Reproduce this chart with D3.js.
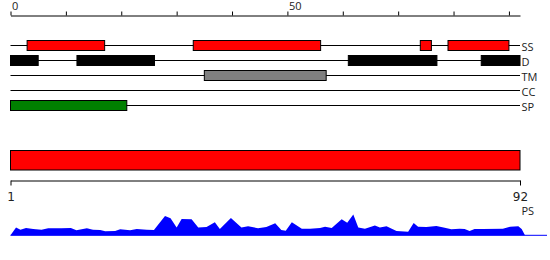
<!DOCTYPE html>
<html>
<head>
<meta charset="utf-8">
<script src="https://cdn.jsdelivr.net/npm/d3@7"></script>
<style>
  body { margin: 0; background: #fff; }
  svg { display: block; }
  text { font-family: "Open Sans", sans-serif; fill: #222; }
</style>
</head>
<body>
<svg id="chart" width="550" height="260"></svg>
<script>
// sequence length and feature tracks
const seqLength = 92;
const trackNames = ['SS', 'D', 'TM', 'CC', 'SP'];
const trackColors = ['#ff0000', '#000000', '#808080', '#ffa500', '#008000'];
const ssRegions = [[3, 17], [33, 56], [74, 76], [79, 90]];
const dRegions = [[0, 5], [12, 26], [61, 77], [85, 92]];
const tmRegions = [[35, 57]];
const ccRegions = [];
const spRegions = [[0, 21]];
const trackRegions = [ssRegions, dRegions, tmRegions, ccRegions, spRegions];

const topTicks = [0, 10, 20, 30, 40, 50, 60, 70, 80, 90];
const topLabels = [0, 50];
const psTicks = [1, 92];

// profile along the sequence: [position, score]
const profile = [
  [0, 0], [1.0, 0.36], [1.8, 0.25], [2.8, 0.33], [4.1, 0.29], [5.6, 0.25],
  [6.8, 0.32], [9.2, 0.32], [10.9, 0.33], [11.9, 0.23], [13.8, 0.32], [14.9, 0.25],
  [16.2, 0.24], [17.1, 0.18], [18.9, 0.2], [19.8, 0.27], [21.6, 0.23], [22.8, 0.29],
  [24.6, 0.25], [25.9, 0.24], [27.9, 0.88], [28.9, 0.77], [30.0, 0.35], [30.9, 0.74],
  [32.7, 0.73], [33.9, 0.35], [35.4, 0.38], [36.9, 0.59], [37.8, 0.29], [39.8, 0.79],
  [41.7, 0.36], [42.9, 0.41], [44.7, 0.32], [46.2, 0.38], [47.8, 0.55], [48.9, 0.24],
  [49.7, 0.21], [50.8, 0.59], [52.6, 0.3], [54.1, 0.3], [55.9, 0.33], [56.8, 0.39],
  [58.0, 0.33], [59.8, 0.73], [60.8, 0.57], [61.9, 0.94], [62.8, 0.35], [64.0, 0.3],
  [65.8, 0.45], [66.7, 0.36], [67.9, 0.41], [69.7, 0.2], [71.8, 0.16], [72.8, 0.56],
  [73.6, 0.39], [75.1, 0.38], [76.9, 0.42], [78.2, 0.35], [79.6, 0.27], [81.1, 0.3],
  [82.0, 0.29], [82.9, 0.2], [83.8, 0.29], [85.3, 0.29], [88.9, 0.3], [90.2, 0.39],
  [91.7, 0.41], [92.3, 0.29], [92.9, 0]
];

const svg = d3.select('#chart');

const x = d3.scaleLinear().domain([0, seqLength]).range([10.5, 520]);
const xPS = d3.scaleLinear().domain([1, seqLength]).range([10.5, 520]);
const yTrack = d3.scalePoint().domain(trackNames).range([45, 105]);
const yProfile = d3.scaleLinear().domain([0, 1]).range([235.3, 213.3]);

// top ruler
const topAxis = svg.append('g')
  .attr('transform', 'translate(0,15.5)')
  .call(d3.axisTop(x)
    .tickValues(topTicks)
    .tickSize(4)
    .tickSizeOuter(0)
    .tickPadding(1.5)
    .tickFormat(d => topLabels.includes(d) ? d : ''));
topAxis.select('.domain').attr('stroke', '#000');
topAxis.selectAll('.tick line').attr('stroke', '#000');
topAxis.selectAll('.tick text')
  .attr('text-anchor', 'start')
  .attr('dx', 1)
  .style('font-family', '"Open Sans", sans-serif')
  .style('font-size', '11px')
  .style('fill', '#222');

// feature tracks
const tracks = svg.selectAll('g.track')
  .data(trackNames)
  .join('g')
  .attr('class', 'track')
  .attr('transform', d => `translate(0,${yTrack(d)})`);

tracks.append('line')
  .attr('x1', x(0))
  .attr('x2', x(seqLength))
  .attr('y1', 0.5)
  .attr('y2', 0.5)
  .attr('stroke', '#000');

tracks.append('text')
  .attr('x', x(seqLength) + 1.5)
  .attr('y', 1)
  .attr('dominant-baseline', 'central')
  .style('font-size', '11px')
  .text(d => d);

tracks.each(function (name, i) {
  d3.select(this).selectAll('rect')
    .data(trackRegions[i])
    .join('rect')
    .attr('x', d => x(d[0]))
    .attr('width', d => x(d[1]) - x(d[0]))
    .attr('y', -4.5)
    .attr('height', 10)
    .attr('fill', trackColors[i])
    .attr('stroke', '#000');
});

// whole-sequence bar
svg.append('rect')
  .attr('x', x(0))
  .attr('width', x(seqLength) - x(0))
  .attr('y', 150.5)
  .attr('height', 19.5)
  .attr('fill', '#ff0000')
  .attr('stroke', '#000');

const psAxis = svg.append('g')
  .attr('transform', 'translate(0,180.5)')
  .call(d3.axisBottom(xPS)
    .tickValues(psTicks)
    .tickSize(5)
    .tickSizeOuter(0)
    .tickPadding(7));
psAxis.select('.domain').attr('stroke', '#000');
psAxis.selectAll('.tick line').attr('stroke', '#000');
psAxis.selectAll('.tick text')
  .style('font-family', '"DejaVu Sans", sans-serif')
  .style('font-size', '12px')
  .style('fill', '#222');

svg.append('text')
  .attr('x', x(seqLength) + 1.5)
  .attr('y', 215)
  .style('font-size', '11px')
  .text('PS');

// profile area
svg.append('line')
  .attr('x1', x(0))
  .attr('x2', 547)
  .attr('y1', yProfile(0))
  .attr('y2', yProfile(0))
  .attr('stroke', '#0000ff');

svg.append('path')
  .datum(profile)
  .attr('fill', '#0000ff')
  .attr('d', d3.area()
    .x(d => x(d[0]))
    .y0(yProfile(0))
    .y1(d => yProfile(d[1])));
</script>
</body>
</html>
